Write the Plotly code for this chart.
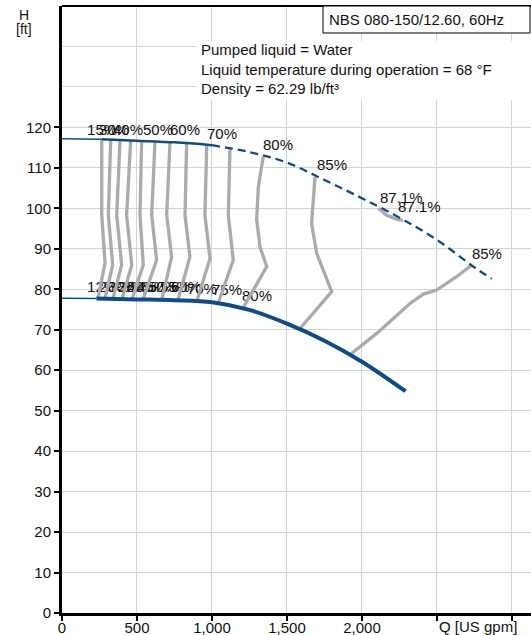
import plotly.graph_objects as go

# ---------------- data (Q in US gpm, H in ft) ----------------
# max impeller curve: thin start, solid part, dashed part
top_thin_q = [0, 265]
top_thin_h = [117.2, 117.05]
top_solid_q = [265, 500, 750, 1000]
top_solid_h = [117.05, 116.7, 116.3, 115.6]
top_dash_q = [1000, 1250, 1500, 1750, 2000, 2250, 2500, 2750, 2865]
top_dash_h = [115.6, 113.9, 111.3, 107.0, 102.5, 97.7, 92.2, 85.4, 82.6]

# min impeller curve
bot_thin_q = [0, 230]
bot_thin_h = [77.8, 77.7]
bot_solid_q = [230, 500, 750, 1000, 1250, 1500, 1750, 2000, 2290]
bot_solid_h = [77.7, 77.5, 77.3, 76.8, 74.9, 71.5, 67.3, 62.1, 54.8]

# efficiency lines (gray)
eff_lines_q = [
    [265, 265, 287, 240],
    [325, 309, 338, 287],
    [387, 365, 398, 340],
    [458, 431, 465, 400],
    [531, 520, 542, 467],
    [620, 598, 631, 540],
    [720, 698, 731, 665],
    [831, 820, 853, 773],
    [965, 953, 987, 898],
    [1120, 1109, 1142, 1042],
    [1342, 1309, 1298, 1320, 1365, 1209],
    [1687, 1664, 1698, 1798, 1587],
    [2731, 2631, 2498, 2409, 2320, 2187, 2098, 1920],
    [2109, 2165, 2231, 2273],
]
eff_lines_h = [
    [117.05, 98.3, 86.5, 77.8],
    [117.0, 98.3, 86.0, 77.8],
    [116.9, 98.3, 86.0, 77.7],
    [116.8, 98.3, 86.0, 77.6],
    [116.7, 98.3, 86.0, 77.6],
    [116.6, 98.3, 87.2, 77.5],
    [116.4, 98.3, 88.0, 77.4],
    [116.2, 98.3, 88.0, 77.3],
    [115.7, 98.3, 87.6, 77.0],
    [115.0, 98.3, 87.2, 76.6],
    [112.8, 105.3, 97.2, 90.5, 85.6, 75.5],
    [107.8, 96.3, 88.9, 79.4, 70.3],
    [86.0, 83.1, 79.8, 78.8, 76.5, 72.0, 69.1, 63.8],
    [100.0, 98.3, 97.3, 97.0],
]

# efficiency labels (top ends)
top_lbl_text = ["15%", "30%", "40%", "50%", "60%", "70%", "80%", "85%", "87.1%", "87.1%", "85%"]
top_lbl_q = [167, 247, 340, 540, 720, 967, 1340, 1700, 2120, 2240, 2733]
top_lbl_h = [119.0, 119.0, 119.0, 119.0, 119.0, 118.1, 115.3, 110.4, 102.3, 99.9, 88.5]

# efficiency labels (bottom ends)
bot_lbl_text = ["12%", "20%", "30%", "35%", "40%", "45%", "50%", "55%", "60%", "70%", "75%", "80%"]
bot_lbl_q = [167, 247, 307, 373, 433, 500, 573, 653, 727, 833, 1000, 1200]
bot_lbl_h = [80.2, 80.2, 80.2, 80.2, 80.2, 80.2, 80.2, 80.2, 80.2, 79.8, 79.6, 78.0]

x_tickvals = [0, 500, 1000, 1500, 2000, 2500, 3000]
x_ticktext = ["0", "500", "1,000", "1,500", "2,000", "", ""]
y_tickvals = [0, 10, 20, 30, 40, 50, 60, 70, 80, 90, 100, 110, 120]
y_minor_grid = [130, 140]

title_box = "NBS 080-150/12.60, 60Hz"
info_lines = ["Pumped liquid = Water",
              "Liquid temperature during operation = 68 °F",
              "Density = 62.29 lb/ft³"]

# ---------------- styles ----------------
BLUE = "#0d4c8b"
GRAY = "#ababab"
FONT = "Liberation Sans, Arial, sans-serif"

fig = go.Figure()

# labels first (drawn beneath lines)
fig.add_trace(go.Scatter(x=top_lbl_q, y=top_lbl_h, text=top_lbl_text, mode="text",
                         textposition="middle right",
                         textfont=dict(size=15, color="#111", family=FONT),
                         hoverinfo="skip", showlegend=False))
fig.add_trace(go.Scatter(x=bot_lbl_q, y=bot_lbl_h, text=bot_lbl_text, mode="text",
                         textposition="middle right",
                         textfont=dict(size=15, color="#111", family=FONT),
                         hoverinfo="skip", showlegend=False))

for qs, hs in zip(eff_lines_q, eff_lines_h):
    fig.add_trace(go.Scatter(x=qs, y=hs, mode="lines",
                             line=dict(color=GRAY, width=3.3),
                             hoverinfo="skip", showlegend=False))

fig.add_trace(go.Scatter(x=top_thin_q, y=top_thin_h, mode="lines",
                         line=dict(color=BLUE, width=1.5), showlegend=False))
fig.add_trace(go.Scatter(x=top_solid_q, y=top_solid_h, mode="lines",
                         line=dict(color=BLUE, width=2.5, shape="spline"), showlegend=False))
fig.add_trace(go.Scatter(x=top_dash_q, y=top_dash_h, mode="lines",
                         line=dict(color=BLUE, width=2.3, shape="spline", dash="8px,5px"),
                         showlegend=False))
fig.add_trace(go.Scatter(x=bot_thin_q, y=bot_thin_h, mode="lines",
                         line=dict(color=BLUE, width=1.5), showlegend=False))
fig.add_trace(go.Scatter(x=bot_solid_q, y=bot_solid_h, mode="lines",
                         line=dict(color=BLUE, width=4, shape="spline"), showlegend=False))

fig.update_layout(
    width=531, height=635,
    margin=dict(l=62, r=0, t=6, b=22),
    paper_bgcolor="white", plot_bgcolor="white",
    font=dict(family=FONT, size=14, color="#111"),
    showlegend=False,
    xaxis=dict(range=[0, 3127], tickvals=x_tickvals, ticktext=x_ticktext,
               ticks="outside", ticklen=5, tickwidth=2, tickcolor="black",
               showline=True, linewidth=3, linecolor="black",
               showgrid=True, gridcolor="#d4d4d4", gridwidth=1, zeroline=False,
               tickfont=dict(size=15), automargin=False, ticklabelstandoff=-6),
    yaxis=dict(range=[0, 150], tickvals=y_tickvals,
               ticks="outside", ticklen=5, tickwidth=2, tickcolor="black",
               showline=True, linewidth=3, linecolor="black",
               showgrid=True, gridcolor="#d4d4d4", gridwidth=1, zeroline=False,
               tickfont=dict(size=15), automargin=False,
               minor=dict(tickvals=y_minor_grid, showgrid=True, gridcolor="#d4d4d4",
                          gridwidth=1, ticks="")),
)

# top frame line
fig.add_shape(type="line", xref="paper", yref="paper", x0=0, x1=1, y0=1, y1=1,
              line=dict(color="black", width=2))
# white block behind info text
fig.add_shape(type="rect", xref="paper", yref="paper",
              x0=(197 - 62) / 469, x1=1, y0=1 - (41 - 6) / 607, y1=1 - (100 - 6) / 607,
              fillcolor="white", line=dict(width=0), layer="above")
fig.add_annotation(xref="paper", yref="paper", x=(199 - 62) / 469, y=1 - (39 - 6) / 607,
                   xanchor="left", yanchor="top", align="left", showarrow=False,
                   text="<br>".join(info_lines), font=dict(size=15, color="#111"))
# NBS title box
fig.add_shape(type="rect", xref="paper", yref="paper",
              x0=(323 - 62) / 469, x1=(530 - 62) / 469, y0=1, y1=1 - (33 - 6) / 607,
              fillcolor="white", line=dict(color="black", width=1), layer="above")
fig.add_annotation(xref="paper", yref="paper", x=(327 - 62) / 469, y=1 - (19.5 - 6) / 607,
                   xanchor="left", yanchor="middle", showarrow=False,
                   text=title_box, font=dict(size=15, color="#111"))
# axis titles
fig.add_annotation(xref="paper", yref="paper", x=(24 - 62) / 469, y=1 - (15 - 6) / 607,
                   xanchor="center", yanchor="middle", showarrow=False,
                   text="H", font=dict(size=14, color="#111"))
fig.add_annotation(xref="paper", yref="paper", x=(24 - 62) / 469, y=1 - (29 - 6) / 607,
                   xanchor="center", yanchor="middle", showarrow=False,
                   text="[ft]", font=dict(size=14, color="#111"))
fig.add_annotation(xref="x", yref="paper", x=2500, y=0, yshift=-3,
                   xanchor="left", yanchor="top", showarrow=False,
                   text="Q [US gpm]", font=dict(size=15, color="#111"))

fig.write_html("out.html", config={"displayModeBar": False},
               post_script="document.body.style.margin='0px';document.body.style.padding='0px';")
